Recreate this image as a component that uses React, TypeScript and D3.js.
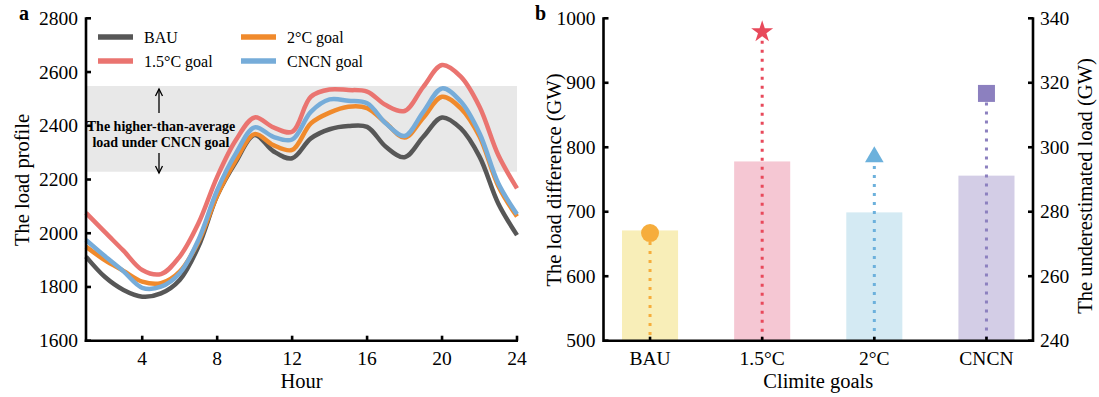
import React from 'react';
import * as d3 from 'd3';

const hours = [1, 2, 3, 4, 5, 6, 7, 8, 9, 10, 11, 12, 13, 14, 15, 16, 17, 18, 19, 20, 21, 22, 23, 24];
const bau = [1913, 1838, 1789, 1764, 1776, 1826, 1950, 2140, 2266, 2366, 2305, 2279, 2353, 2387, 2399, 2396, 2322, 2283, 2359, 2431, 2390, 2285, 2111, 1993];
const goal15 = [2076, 2005, 1935, 1863, 1848, 1913, 2037, 2210, 2347, 2431, 2394, 2378, 2508, 2535, 2533, 2527, 2477, 2455, 2545, 2626, 2583, 2471, 2291, 2167];
const goal2 = [1950, 1900, 1860, 1820, 1814, 1857, 1968, 2140, 2272, 2369, 2328, 2310, 2409, 2449, 2471, 2466, 2410, 2356, 2430, 2508, 2465, 2360, 2176, 2062];
const cncn = [1975, 1915, 1858, 1797, 1801, 1851, 1975, 2160, 2297, 2394, 2359, 2349, 2452, 2498, 2493, 2484, 2409, 2362, 2452, 2539, 2490, 2372, 2186, 2071];
const seriesNames = ['BAU', '1.5°C goal', '2°C goal', 'CNCN goal'];
const lineColors = ['#575757', '#ea7470', '#f08a2c', '#76acd9'];
const hourTicks = [4, 8, 12, 16, 20, 24];
const loadTicks = [1600, 1800, 2000, 2200, 2400, 2600, 2800];
const bandRange = [2229, 2548];

const goals = ['BAU', '1.5°C', '2°C', 'CNCN'];
const loadDiff = [671, 778, 699, 756];
const underestimated = [273.4, 335.8, 297, 316.7];
const diffTicks = [500, 600, 700, 800, 900, 1000];
const underTicks = [240, 260, 280, 300, 320, 340];
const barColors = ['#f8eeb8', '#f5c7d3', '#d4eaf3', '#d3cde6'];
const markerColors = ['#f6ad3c', '#e8495b', '#6cb1dc', '#8c80bf'];
const markerShapes = ['circle', 'star', 'triangle', 'square'];

const FONT = '"Liberation Serif", "Times New Roman", serif';

export default function App() {
  // Panel a scales
  const xa = d3.scaleLinear().domain([1, 24]).range([86, 517]);
  const ya = d3.scaleLinear().domain([1600, 2800]).range([340.7, 18.3]);
  const line = d3
    .line<number>()
    .x((_, i) => xa(hours[i]))
    .y((d) => ya(d))
    .curve(d3.curveCatmullRom.alpha(0.5));
  const allSeries = [bau, goal15, goal2, cncn];

  // Panel b scales
  const xb = d3.scaleLinear().domain([-0.415, 3.415]).range([603.5, 1033]);
  const yb = d3.scaleLinear().domain([500, 1000]).range([340.7, 18.3]);
  const yb2 = d3.scaleLinear().domain([240, 340]).range([340.7, 18.3]);
  const barW = xb(0.25) - xb(-0.25);

  const symbolPath = (shape: string) => {
    if (shape === 'star') return d3.symbol(d3.symbolStar, 150)()!;
    if (shape === 'triangle') return d3.symbol(d3.symbolTriangle, 150)()!;
    if (shape === 'square') return d3.symbol(d3.symbolSquare, 289)()!;
    return d3.symbol(d3.symbolCircle, Math.PI * 81)()!;
  };

  const axisW = 2.6;
  const tickLen = 5;

  const legendItems = [
    { name: seriesNames[0], color: lineColors[0], x: 98, y: 37 },
    { name: seriesNames[1], color: lineColors[1], x: 98, y: 61 },
    { name: seriesNames[2], color: lineColors[2], x: 241, y: 37 },
    { name: seriesNames[3], color: lineColors[3], x: 241, y: 61 },
  ];

  return (
    <svg
      width={1099}
      height={397}
      style={{ position: 'absolute', left: 0, top: 0, background: '#fff' }}
      fontFamily={FONT}
    >
      {/* ---------- Panel a ---------- */}
      <rect
        x={xa(1)}
        y={ya(bandRange[1])}
        width={xa(24) - xa(1)}
        height={ya(bandRange[0]) - ya(bandRange[1])}
        fill="#e8e8e8"
      />
      {allSeries.map((s, i) => (
        <path key={i} d={line(s)!} fill="none" stroke={lineColors[i]} strokeWidth={4.5} strokeLinejoin="round" />
      ))}
      {/* legend */}
      {legendItems.map((it) => (
        <g key={it.name}>
          <line x1={it.x} x2={it.x + 35} y1={it.y} y2={it.y} stroke={it.color} strokeWidth={5.5} />
          <text x={it.x + 46} y={it.y + 5.5} fontSize={16}>
            {it.name}
          </text>
        </g>
      ))}
      {/* annotation */}
      <text x={161} y={131} fontSize={14} fontWeight="bold" textAnchor="middle">
        The higher-than-average
      </text>
      <text x={161} y={147} fontSize={14} fontWeight="bold" textAnchor="middle">
        load under CNCN goal
      </text>
      <g stroke="#000" strokeWidth={1.3} fill="none">
        <line x1={159} x2={159} y1={113} y2={89} />
        <polyline points="155.5,96 159,89 162.5,96" />
        <line x1={159} x2={159} y1={153} y2={173} />
        <polyline points="155.5,166 159,173 162.5,166" />
      </g>
      {/* axes a */}
      <g stroke="#000" strokeWidth={axisW}>
        <line x1={xa(1)} x2={xa(1)} y1={ya(2800) - 1} y2={ya(1600) + axisW / 2} />
        <line x1={xa(1) - axisW / 2} x2={xa(24) + 1} y1={ya(1600)} y2={ya(1600)} />
        {loadTicks.map((t) => (
          <line key={t} x1={xa(1)} x2={xa(1) + tickLen} y1={ya(t)} y2={ya(t)} />
        ))}
        {hourTicks.map((t) => (
          <line key={t} x1={xa(t)} x2={xa(t)} y1={ya(1600)} y2={ya(1600) - tickLen} />
        ))}
      </g>
      {loadTicks.map((t) => (
        <text key={t} x={xa(1) - 8} y={ya(t) + 6.5} fontSize={19.5} textAnchor="end">
          {t}
        </text>
      ))}
      {hourTicks.map((t) => (
        <text key={t} x={xa(t)} y={365} fontSize={19.5} textAnchor="middle">
          {t}
        </text>
      ))}
      <text x={(xa(1) + xa(24)) / 2} y={388} fontSize={20.5} textAnchor="middle">
        Hour
      </text>
      <text transform="translate(29,180) rotate(-90)" fontSize={20.5} textAnchor="middle">
        The load profile
      </text>
      <text x={19} y={20} fontSize={20} fontWeight="bold">
        a
      </text>

      {/* ---------- Panel b ---------- */}
      {goals.map((g, i) => (
        <rect
          key={g}
          x={xb(i) - barW / 2}
          y={yb(loadDiff[i])}
          width={barW}
          height={yb(500) - yb(loadDiff[i])}
          fill={barColors[i]}
        />
      ))}
      {goals.map((g, i) => (
        <line
          key={g}
          x1={xb(i)}
          x2={xb(i)}
          y1={yb2(underestimated[i])}
          y2={yb(500) - 2}
          stroke={markerColors[i]}
          strokeWidth={3}
          strokeDasharray="3 6"
        />
      ))}
      {goals.map((g, i) => (
        <path
          key={g}
          d={symbolPath(markerShapes[i])}
          transform={`translate(${xb(i)},${yb2(underestimated[i])})`}
          fill={markerColors[i]}
        />
      ))}
      <g stroke="#000" strokeWidth={axisW}>
        <line x1={xb(-0.415)} x2={xb(-0.415)} y1={yb(1000) - 1} y2={yb(500) + axisW / 2} />
        <line x1={xb(3.415)} x2={xb(3.415)} y1={yb(1000) - 1} y2={yb(500) + axisW / 2} />
        <line x1={xb(-0.415)} x2={xb(3.415)} y1={yb(500)} y2={yb(500)} />
        {diffTicks.map((t) => (
          <line key={t} x1={xb(-0.415)} x2={xb(-0.415) + tickLen} y1={yb(t)} y2={yb(t)} />
        ))}
        {underTicks.map((t) => (
          <line key={t} x1={xb(3.415)} x2={xb(3.415) - tickLen} y1={yb2(t)} y2={yb2(t)} />
        ))}
        {goals.map((g, i) => (
          <line key={g} x1={xb(i)} x2={xb(i)} y1={yb(500)} y2={yb(500) - 4} />
        ))}
      </g>
      {diffTicks.map((t) => (
        <text key={t} x={xb(-0.415) - 8} y={yb(t) + 6.5} fontSize={19.5} textAnchor="end">
          {t}
        </text>
      ))}
      {underTicks.map((t) => (
        <text key={t} x={xb(3.415) + 7} y={yb2(t) + 6.5} fontSize={19.5} textAnchor="start">
          {t}
        </text>
      ))}
      {goals.map((g, i) => (
        <text key={g} x={xb(i)} y={365} fontSize={19.5} textAnchor="middle">
          {g}
        </text>
      ))}
      <text x={(xb(-0.415) + xb(3.415)) / 2} y={388} fontSize={20.5} textAnchor="middle">
        Climite goals
      </text>
      <text transform="translate(561,180) rotate(-90)" fontSize={20.5} textAnchor="middle">
        The load difference (GW)
      </text>
      <text transform="translate(1092,186) rotate(-90)" fontSize={20.5} textAnchor="middle">
        The underestimated load (GW)
      </text>
      <text x={535} y={20} fontSize={20} fontWeight="bold">
        b
      </text>
    </svg>
  );
}
